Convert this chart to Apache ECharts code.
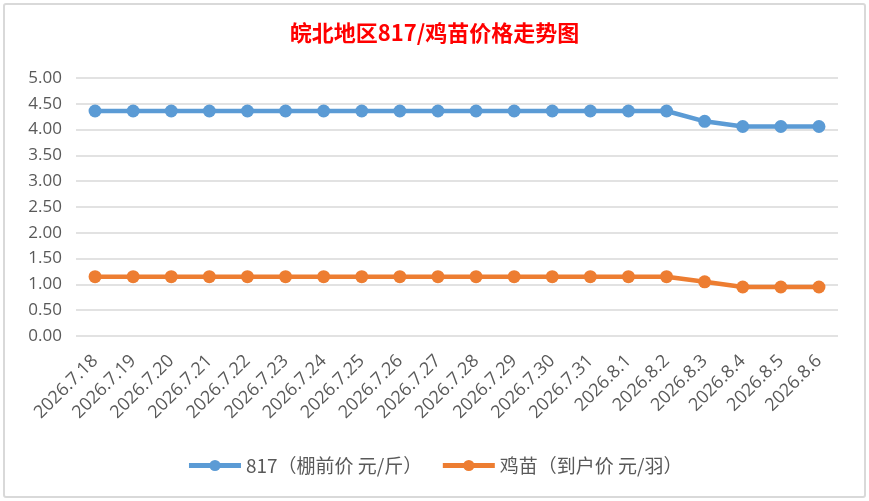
<!DOCTYPE html>
<html>
<head>
<meta charset="utf-8">
<script src="https://cdn.jsdelivr.net/npm/echarts@6/dist/echarts.min.js"></script>
<style>
	html, body { margin: 0; padding: 0; background: #fff; }
	#frame {
		position: absolute; left: 3px; top: 3px; width: 859px; height: 491px;
		border: 2px solid #d9d9d9; border-radius: 3px;
	}
	#chart { position: absolute; left: 0; top: 0; width: 869px; height: 501px; }
</style>
</head>
<body>
<div id="frame"></div>
<div id="chart"></div>
<script>
var dates = ['2026.7.18', '2026.7.19', '2026.7.20', '2026.7.21', '2026.7.22', '2026.7.23', '2026.7.24',
	'2026.7.25', '2026.7.26', '2026.7.27', '2026.7.28', '2026.7.29', '2026.7.30', '2026.7.31',
	'2026.8.1', '2026.8.2', '2026.8.3', '2026.8.4', '2026.8.5', '2026.8.6'];
var price817 = [4.36, 4.36, 4.36, 4.36, 4.36, 4.36, 4.36, 4.36, 4.36, 4.36,
	4.36, 4.36, 4.36, 4.36, 4.36, 4.36, 4.16, 4.06, 4.06, 4.06];
var priceChick = [1.15, 1.15, 1.15, 1.15, 1.15, 1.15, 1.15, 1.15, 1.15, 1.15,
	1.15, 1.15, 1.15, 1.15, 1.15, 1.15, 1.05, 0.95, 0.95, 0.95];
var seriesNames = ['817（棚前价 元/斤）', '鸡苗（到户价 元/羽）'];

var chart = echarts.init(document.getElementById('chart'));
var font = '"Noto Sans CJK SC", "Open Sans", sans-serif';
var option = {
	color: ['#5b9bd5', '#ed7d31'],
	animation: false,
	title: {
		text: '皖北地区817/鸡苗价格走势图',
		left: 'center',
		top: 17,
		textStyle: {
			color: '#ff0000',
			fontSize: 22,
			fontWeight: 'bold',
			fontFamily: font
		}
	},
	grid: {
		left: 76,
		right: 31,
		top: 78,
		bottom: 165
	},
	legend: {
		data: seriesNames,
		bottom: 21,
		left: 'center',
		itemWidth: 52,
		itemHeight: 14,
		itemGap: 18,
		lineStyle: { width: 5 },
		textStyle: {
			color: '#595959',
			fontSize: 19,
			fontFamily: font
		}
	},
	xAxis: {
		type: 'category',
		data: dates,
		boundaryGap: true,
		axisLine: { show: false },
		axisTick: { show: false },
		axisLabel: {
			rotate: 45,
			interval: 0,
			color: '#595959',
			fontSize: 18,
			fontFamily: '"Open Sans", sans-serif',
			margin: 22
		}
	},
	yAxis: {
		type: 'value',
		min: 0,
		max: 5,
		interval: 0.5,
		axisLine: { show: false },
		axisTick: { show: false },
		splitLine: {
			lineStyle: { color: '#d9d9d9', width: 1.5 }
		},
		axisLabel: {
			color: '#595959',
			fontSize: 17,
			fontFamily: '"Open Sans", sans-serif',
			margin: 14,
			formatter: function (v) { return v.toFixed(2); }
		}
	},
	series: [{
		name: seriesNames[0],
		type: 'line',
		data: price817,
		symbol: 'circle',
		symbolSize: 13,
		lineStyle: { width: 4.5 }
	}, {
		name: seriesNames[1],
		type: 'line',
		data: priceChick,
		symbol: 'circle',
		symbolSize: 13,
		lineStyle: { width: 4.5 }
	}]
};
chart.setOption(option);
</script>
</body>
</html>
